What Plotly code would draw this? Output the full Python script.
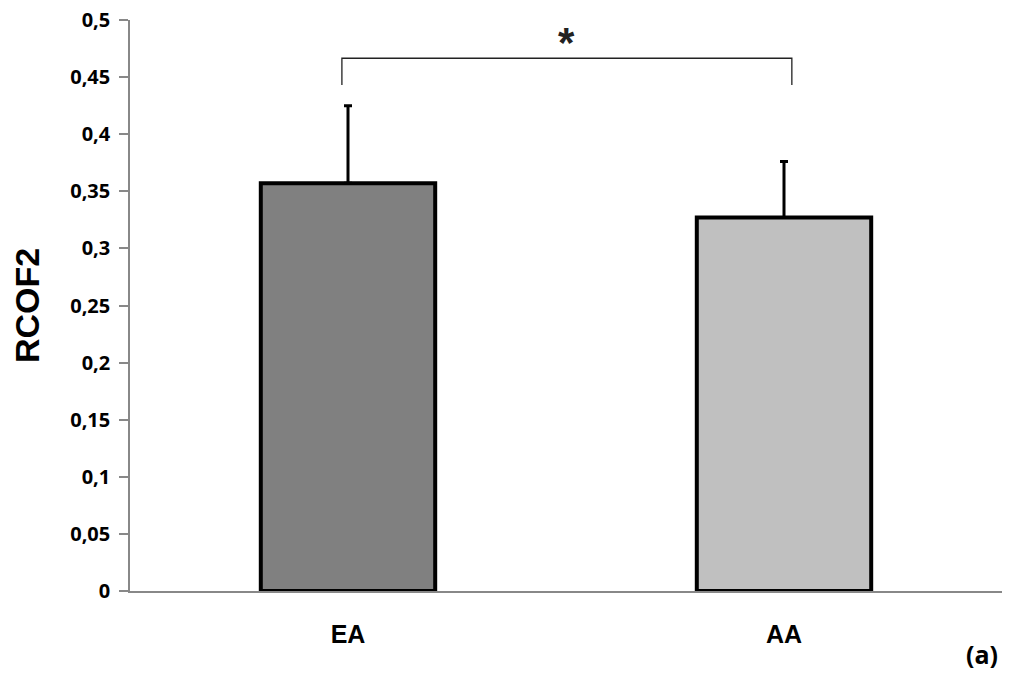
import plotly.graph_objects as go

categories = ["EA", "AA"]
means = [0.357, 0.327]
errors = [0.068, 0.049]
bar_colors = ["#808080", "#c0c0c0"]
y_ticks = [0, 0.05, 0.1, 0.15, 0.2, 0.25, 0.3, 0.35, 0.4, 0.45, 0.5]
y_tick_labels = ["0", "0,05", "0,1", "0,15", "0,2", "0,25", "0,3", "0,35", "0,4", "0,45", "0,5"]
bracket_top = 0.4665
bracket_bottom = 0.443
significance = "*"

fig = go.Figure()
fig.add_trace(go.Bar(
    x=[0, 1], y=means, width=0.4,
    marker=dict(color=bar_colors, line=dict(color="black", width=4)),
    error_y=dict(type="data", array=errors, arrayminus=[0, 0], symmetric=False,
                 color="black", thickness=3, width=4),
    showlegend=False,
))

# significance bracket
x0, x1 = -0.014, 1.018
fig.add_shape(type="path",
              path=f"M {x0},{bracket_bottom} L {x0},{bracket_top} L {x1},{bracket_top} L {x1},{bracket_bottom}",
              line=dict(color="#222222", width=1.3), xref="x", yref="y")
fig.add_annotation(x=0.5, y=bracket_top, yshift=-10, text="<b>" + significance + "</b>", showarrow=False,
                   yanchor="bottom", font=dict(size=42, color="#222", family="Liberation Sans"))
fig.add_annotation(x=1.0, xref="paper", y=0, yref="paper", xanchor="right", yanchor="top",
                   xshift=-2, yshift=-44, text="<b>(a)</b>", showarrow=False,
                   font=dict(size=25, color="black", family="Open Sans"))

fig.update_layout(
    width=1016, height=677,
    margin=dict(l=130, r=14, t=20, b=86),
    plot_bgcolor="white", paper_bgcolor="white",
    bargap=0.6,
)
fig.update_xaxes(range=[-0.5, 1.5], tickvals=[0, 1], ticktext=[f"<b>{c}</b>" for c in categories],
                 showline=True, linecolor="#888888", linewidth=1.5, ticks="",
                 tickfont=dict(size=25, color="black", family="Liberation Sans"),
                 showgrid=False, zeroline=False, ticklabelstandoff=20, automargin=False)
fig.update_yaxes(range=[0, 0.5], tickvals=y_ticks, ticktext=[f"<b>{t}</b>" for t in y_tick_labels],
                 showline=True, linecolor="#888888", linewidth=1.5, ticks="outside",
                 ticklen=9, tickcolor="#888888", tickwidth=1.5, ticklabelstandoff=5,
                 tickfont=dict(size=20, color="black", family="Open Sans"),
                 showgrid=False, zeroline=False, automargin=False,
                 title=dict(text="<b>RCOF2</b>", font=dict(size=34, color="black", family="Liberation Sans"), standoff=20))

fig.write_html("out.html", config={"displayModeBar": False},
               post_script="document.body.style.margin='0';document.body.style.overflow='hidden';")
